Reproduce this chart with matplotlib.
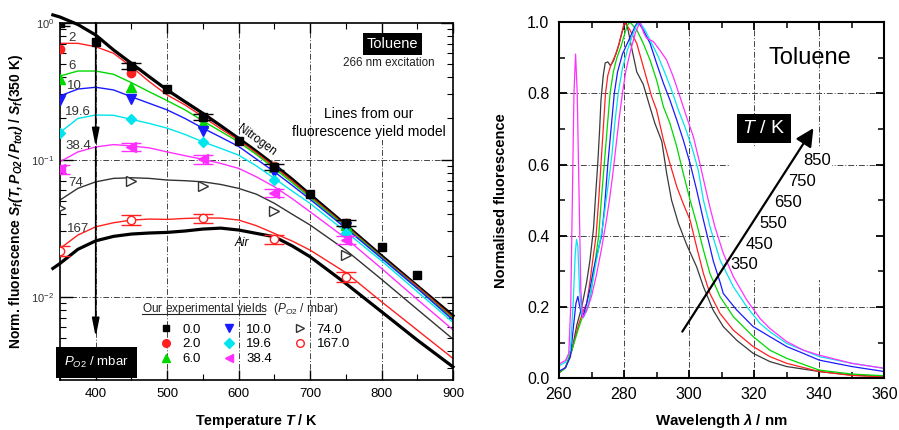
import numpy as np
import matplotlib.pyplot as plt
from matplotlib.lines import Line2D
from matplotlib.patches import Rectangle
from matplotlib.ticker import MultipleLocator, NullFormatter, LogLocator

plt.rcParams['font.family'] = ['Liberation Sans', 'DejaVu Sans']
plt.rcParams['mathtext.fontset'] = 'custom'
plt.rcParams['mathtext.rm'] = 'Liberation Sans'
plt.rcParams['mathtext.it'] = 'Liberation Sans:italic'
plt.rcParams['mathtext.bf'] = 'Liberation Sans:bold:italic'

# ---- left panel: experimental yields ----
t_exp = [350, 450, 550, 650, 750]
t_exp_n2 = [350, 400, 450, 500, 550, 600, 650, 700, 750, 800, 850]
exp_00 = [1.0, 0.719, 0.483, 0.328, 0.204, 0.137, 0.089, 0.0559, 0.0345, 0.0232, 0.0144]
err_00 = [0.05, np.nan, 0.05, np.nan, 0.05, np.nan, 0.05, np.nan, 0.05, np.nan, np.nan]
exp_02 = [0.643, 0.427, 0.200, 0.090, 0.0343]
exp_06 = [0.386, 0.338, 0.184, 0.088, 0.0333]
exp_10 = [0.273, 0.276, 0.162, 0.081, 0.0321]
exp_19 = [0.156, 0.197, 0.135, 0.0711, 0.029]
exp_38 = [0.085, 0.124, 0.1007, 0.0574, 0.0259]
err_38 = [0.07, 0.07, 0.07, 0.07, 0.07]
exp_74 = [0.0442, 0.070, 0.0646, 0.0422, 0.0201]
exp_167 = [0.0216, 0.0363, 0.0373, 0.0262, 0.014]
err_167 = [0.08, 0.08, 0.08, 0.08, 0.08]

# model curves
t_model = [350, 375, 400, 425, 450, 475, 500, 525, 550, 575, 600, 625, 650, 675, 700, 750, 800, 850, 900]
t_thick = [340] + t_model
mod_n2 = [1.14, 1.10, 0.97, 0.813, 0.632, 0.505, 0.403, 0.323, 0.265, 0.218, 0.177, 0.143, 0.115,
          0.0915, 0.072, 0.0556, 0.0334, 0.0199, 0.0120, 0.00726]
mod_air = [0.0161, 0.0175, 0.0222, 0.0256, 0.0276, 0.0287, 0.0292, 0.0295, 0.0302, 0.0312, 0.0317,
           0.0307, 0.029, 0.0274, 0.0235, 0.0196, 0.0125, 0.00778, 0.00483, 0.00308]
mod_02 = [0.707, 0.707, 0.668, 0.598, 0.477, 0.371, 0.297, 0.251, 0.206, 0.168, 0.139, 0.112, 0.0889,
          0.070, 0.0543, 0.0330, 0.0196, 0.0119, 0.00706]
mod_06 = [0.408, 0.444, 0.444, 0.42, 0.365, 0.313, 0.27, 0.231, 0.192, 0.161, 0.135, 0.109, 0.0865,
          0.068, 0.0531, 0.0324, 0.0194, 0.0116, 0.0069]
mod_10 = [0.292, 0.328, 0.338, 0.323, 0.288, 0.258, 0.231, 0.20, 0.170, 0.146, 0.125, 0.101, 0.0817,
          0.065, 0.0514, 0.0316, 0.0191, 0.0115, 0.00676]
mod_19 = [0.158, 0.200, 0.212, 0.211, 0.197, 0.184, 0.170, 0.153, 0.135, 0.121, 0.108, 0.090, 0.0731,
          0.059, 0.048, 0.0298, 0.0183, 0.0109, 0.0065]
mod_38 = [0.0967, 0.114, 0.124, 0.129, 0.126, 0.122, 0.114, 0.107, 0.1007, 0.094, 0.0865, 0.075,
          0.0635, 0.052, 0.0417, 0.0267, 0.0161, 0.00957, 0.00574]
mod_74 = [0.0508, 0.0618, 0.069, 0.0731, 0.0739, 0.0731, 0.0711, 0.0703, 0.069, 0.066, 0.0618, 0.056,
          0.0481, 0.040, 0.0334, 0.0219, 0.0134, 0.0081, 0.00491]
mod_167 = [0.0225, 0.0282, 0.0324, 0.0347, 0.0363, 0.0369, 0.0367, 0.0373, 0.0376, 0.0375, 0.0363,
           0.033, 0.029, 0.0255, 0.0219, 0.0150, 0.0092, 0.00571, 0.00355]

legend_labels = ['0.0', '2.0', '6.0', '10.0', '19.6', '38.4', '74.0', '167.0']
curve_labels = ['2', '6', '10', '19.6', '38.4', '74', '167']

# ---- right panel: spectra ----
wl_350 = [260, 262, 264, 265.5, 267, 268.5, 269.5, 270.6, 271.3, 271.9, 272.5, 272.9, 273.6, 274.2, 275,
          275.8, 276.7, 278.2, 279.8, 280.6, 281.3, 282.5, 283.9, 285.9, 288, 289.5, 291.6, 293.1, 294.6,
          296.7, 299.2, 302.3, 304.4, 307.4, 310.5, 314.6, 319.7, 324.8, 330, 340, 350, 360]
sp_350 = [0.015, 0.03, 0.08, 0.15, 0.20, 0.27, 0.33, 0.42, 0.52, 0.60, 0.70, 0.78, 0.85, 0.885, 0.888,
          0.878, 0.89, 0.93, 0.985, 1.0, 0.975, 0.92, 0.86, 0.825, 0.76, 0.715, 0.665, 0.575, 0.50,
          0.435, 0.376, 0.313, 0.257, 0.191, 0.145, 0.107, 0.07, 0.047, 0.033, 0.019, 0.009, 0.005]
wl_450 = [260, 262, 264, 266, 267.5, 268.5, 269.5, 270.5, 271.4, 272.2, 272.9, 273.6, 274.3, 275, 275.8,
          276.5, 277.5, 278.5, 279.3, 280.1, 281.8, 283.9, 285.9, 288.5, 290, 292.1, 294.1, 296.2, 298.2,
          300.3, 302.3, 304.4, 306.4, 309.5, 313.6, 319.7, 324.8, 330, 340, 350, 360]
sp_450 = [0.015, 0.03, 0.08, 0.15, 0.19, 0.21, 0.27, 0.34, 0.40, 0.50, 0.60, 0.70, 0.80, 0.85, 0.875,
          0.89, 0.91, 0.94, 0.97, 1.0, 0.978, 0.94, 0.875, 0.79, 0.753, 0.669, 0.603, 0.538, 0.49,
          0.444, 0.369, 0.294, 0.238, 0.182, 0.135, 0.089, 0.061, 0.042, 0.019, 0.008, 0.004]
wl_550 = [260, 262, 264, 266, 267.5, 269, 270, 271, 272.2, 273, 273.9, 274.8, 275.7, 276.7, 277.8, 279,
          280.3, 281, 281.8, 283.9, 285.9, 288, 290, 292.1, 294.1, 296.2, 298.2, 300.3, 302.3, 304.4,
          306.4, 309.5, 313.6, 319.7, 324.8, 330, 340, 350, 360]
sp_550 = [0.015, 0.03, 0.08, 0.14, 0.18, 0.20, 0.25, 0.32, 0.40, 0.50, 0.60, 0.70, 0.80, 0.86, 0.90,
          0.93, 0.97, 0.99, 1.0, 0.978, 0.94, 0.893, 0.837, 0.762, 0.716, 0.65, 0.575, 0.5, 0.435, 0.36,
          0.294, 0.229, 0.173, 0.117, 0.079, 0.056, 0.023, 0.012, 0.007]
wl_650 = [260, 262, 263.5, 264.5, 265.2, 265.8, 266.4, 267, 267.6, 268.5, 269.5, 270.5, 271.5, 272.3,
          273.1, 274, 275, 276, 277, 278, 279.5, 281, 282.5, 283.5, 284.3, 285.9, 288, 290, 292.1, 294.1,
          296.2, 298.2, 300.3, 302.3, 304.4, 306.4, 307.4, 309.5, 310.5, 314.6, 319.7, 324.8, 330,
          335.1, 340, 350, 360]
sp_650 = [0.02, 0.03, 0.06, 0.15, 0.21, 0.23, 0.20, 0.175, 0.18, 0.21, 0.25, 0.30, 0.34, 0.37, 0.40,
          0.48, 0.60, 0.70, 0.80, 0.86, 0.91, 0.94, 0.97, 0.99, 1.0, 0.978, 0.94, 0.884, 0.828, 0.781,
          0.725, 0.669, 0.603, 0.529, 0.444, 0.369, 0.33, 0.27, 0.238, 0.192, 0.145, 0.117, 0.089,
          0.07, 0.051, 0.033, 0.019]
wl_750 = [260, 262, 263.5, 264.3, 265, 265.4, 265.8, 266.3, 267, 267.5, 268.5, 269.5, 270.5, 271.5,
          272.5, 273.5, 274.5, 275.5, 276.3, 277.2, 278.2, 279.5, 281, 282.5, 283.8, 284.8, 286.4, 288.5,
          290.5, 292.6, 294.6, 296.7, 298.7, 300.8, 302.8, 304.4, 306.4, 309.5, 313.6, 317.7, 321.8,
          324.8, 330, 335.1, 340, 350, 360]
sp_750 = [0.035, 0.045, 0.08, 0.2, 0.35, 0.39, 0.37, 0.25, 0.18, 0.17, 0.19, 0.23, 0.28, 0.33, 0.38,
          0.43, 0.50, 0.57, 0.63, 0.72, 0.80, 0.87, 0.92, 0.96, 0.99, 1.0, 0.978, 0.94, 0.903, 0.856,
          0.809, 0.753, 0.706, 0.65, 0.585, 0.5, 0.426, 0.332, 0.257, 0.201, 0.154, 0.131, 0.098, 0.079,
          0.061, 0.042, 0.028]
wl_850 = [260, 262, 263, 263.6, 264.1, 264.6, 265.1, 265.6, 266.2, 266.7, 267.3, 268.5, 270, 271.5, 273,
          274.5, 275.5, 276.5, 277.5, 278.5, 279.5, 280.5, 282, 283.5, 284.9, 286, 286.9, 289, 291, 293.1,
          295.1, 297.2, 299.2, 301.3, 303.3, 305.4, 306.4, 307.9, 310.5, 313.6, 317.7, 321.8, 324.8, 330,
          335.1, 340, 350, 360]
sp_850 = [0.04, 0.05, 0.07, 0.2, 0.5, 0.8, 0.91, 0.8, 0.5, 0.25, 0.17, 0.19, 0.23, 0.29, 0.36, 0.44,
          0.50, 0.57, 0.65, 0.73, 0.80, 0.86, 0.92, 0.97, 1.0, 0.97, 0.955, 0.945, 0.921, 0.893, 0.847,
          0.79, 0.734, 0.678, 0.603, 0.519, 0.48, 0.426, 0.351, 0.285, 0.22, 0.168, 0.14, 0.103, 0.079,
          0.065, 0.042, 0.028]
temp_labels = ['850', '750', '650', '550', '450', '350']

c_red, c_green, c_blue = '#ff2020', '#00d800', '#1a1aff'
c_cyan, c_mag, c_gray = '#00e5ee', '#ff30ff', '#333333'
gridstyle = dict(color='#444444', lw=0.7, ls=(0, (6, 2, 1, 2)), zorder=0.5)

fig = plt.figure(figsize=(8.99, 4.30), dpi=100)
ax1 = fig.add_axes([60 / 899, 50 / 430, 393 / 899, 357.3 / 430])
ax2 = fig.add_axes([559 / 899, 51.7 / 430, 325.3 / 899, 356.3 / 430])

# left panel
ax1.set_yscale('log')
ax1.set_xlim(350, 900)
ax1.set_ylim(0.00247, 1.0)
for t in [400, 500, 600, 700, 800]:
    ax1.axvline(t, **gridstyle)
for v in [0.1, 0.01]:
    ax1.axhline(v, **gridstyle)
ax1.add_patch(Rectangle((728, 0.139), 172, 1.0 - 0.139, fc='white', ec='none', zorder=0.7))

ax1.plot(t_thick, mod_n2, color='black', lw=2.3, zorder=2, clip_on=False)
ax1.plot(t_thick, mod_air, color='black', lw=2.3, zorder=2, clip_on=False)
models = [(mod_02, c_red), (mod_06, c_green), (mod_10, c_blue), (mod_19, c_cyan),
          (mod_38, c_mag), (mod_74, c_gray), (mod_167, c_red)]
for m, c in models:
    ax1.plot(t_model, m, color=c, lw=1.0, zorder=2)

ebkw = dict(ls='none', capsize=7, elinewidth=1, capthick=1, zorder=3)
ax1.errorbar(t_exp_n2, exp_00, yerr=np.array(exp_00) * np.array(err_00), marker='s', ms=5.5,
             color='black', **ebkw)
ax1.plot(t_exp, exp_02, 'o', ms=6, color=c_red, zorder=3)
ax1.plot(t_exp, exp_06, '^', ms=6.5, color=c_green, zorder=3)
ax1.plot(t_exp, exp_10, 'v', ms=6.5, color=c_blue, zorder=3)
ax1.plot(t_exp, exp_19, 'D', ms=5, color=c_cyan, zorder=3)
ax1.errorbar(t_exp, exp_38, yerr=np.array(exp_38) * np.array(err_38), marker='<', ms=6.5,
             color=c_mag, **ebkw)
ax1.plot(t_exp, exp_74, '>', ms=6.5, mfc='white', mec=c_gray, mew=1, zorder=3)
ax1.errorbar(t_exp, exp_167, yerr=np.array(exp_167) * np.array(err_167), marker='o', ms=6,
             mfc='white', mec=c_red, color=c_red, **ebkw)

# curve labels at the left side
label_pos = [(68, 38), (68, 66), (67, 86), (65, 112), (65, 146), (68, 183), (67, 229)]
for s, (px, py) in zip(curve_labels, label_pos):
    ax1.text((px - 60) / 393, (380 - py) / 357.3, s, transform=ax1.transAxes, fontsize=9.5,
             color='#333333', ha='left', va='center')

# P_O2 arrow
ax1.annotate('', xy=(400, 0.124), xytext=(400, 1.0),
             arrowprops=dict(arrowstyle='-|>,head_length=1.1,head_width=0.22', lw=1.2, color='black',
                             shrinkA=0, shrinkB=0))
ax1.annotate('', xy=(400, 0.0051), xytext=(400, 0.124),
             arrowprops=dict(arrowstyle='-|>,head_length=1.1,head_width=0.22', lw=1.2, color='black',
                             shrinkA=0, shrinkB=0))
ax1.text(0.093, 0.05, r'$\mathit{P}_{\mathit{O2}}$ / mbar', transform=ax1.transAxes, color='white',
         fontsize=9.5, ha='center', va='center', zorder=5,
         bbox=dict(boxstyle='square,pad=0.6', fc='black', ec='none'))

ax1.text(0.847, 0.940, 'Toluene', transform=ax1.transAxes, color='white', fontsize=10.5,
         ha='center', va='center', bbox=dict(boxstyle='square,pad=0.25', fc='black', ec='none'))
ax1.text(0.837, 0.887, '266 nm excitation', transform=ax1.transAxes, fontsize=8.4, color='#222222',
         ha='center', va='center')
ax1.text(0.786, 0.720, 'Lines from our\nfluorescence yield model', transform=ax1.transAxes,
         fontsize=10, ha='center', va='center', linespacing=1.35)
ax1.text(0.501, 0.672, 'Nitrogen', transform=ax1.transAxes, fontsize=8.5, rotation=-36,
         ha='center', va='center')
ax1.text(0.463, 0.383, 'Air', transform=ax1.transAxes, fontsize=8.5, style='italic',
         ha='center', va='center')

# legend
handles = [Line2D([], [], ls='none', marker='s', ms=4.5, color='black'),
           Line2D([], [], ls='none', marker='o', ms=5.5, color=c_red),
           Line2D([], [], ls='none', marker='^', ms=6, color=c_green),
           Line2D([], [], ls='none', marker='v', ms=6, color=c_blue),
           Line2D([], [], ls='none', marker='D', ms=5, color=c_cyan),
           Line2D([], [], ls='none', marker='<', ms=6, color=c_mag),
           Line2D([], [], ls='none', marker='>', ms=6, mfc='white', mec=c_gray),
           Line2D([], [], ls='none', marker='o', ms=5.5, mfc='white', mec=c_red)]
ax1.legend(handles, legend_labels, ncol=3, loc='center', bbox_to_anchor=(0.495, 0.10),
           frameon=False, fontsize=9.5, handlelength=1.0, handletextpad=0.8, columnspacing=1.6,
           labelspacing=0.2, borderpad=0)
ax1.text((142 - 60) / 393, (380 - 309) / 357.3,
         r'Our experimental yields  ($\mathit{P}_{\mathit{O2}}$ / mbar)', transform=ax1.transAxes,
         fontsize=8.6, ha='left', va='center', color='#222222')
ax1.add_line(Line2D([(142 - 60) / 393, (265 - 60) / 393], [(380 - 314) / 357.3] * 2,
                    transform=ax1.transAxes, color='#222222', lw=0.8))

ax1.xaxis.set_major_locator(MultipleLocator(100))
ax1.xaxis.set_minor_locator(MultipleLocator(50))
ax1.yaxis.set_major_locator(LogLocator(base=10))
ax1.yaxis.set_minor_locator(LogLocator(base=10, subs=np.arange(2, 10)))
ax1.yaxis.set_minor_formatter(NullFormatter())
ax1.tick_params(which='both', direction='in', top=True, right=True)
ax1.tick_params(axis='x', which='major', length=7, width=1, labelsize=9.5, pad=6)
ax1.tick_params(axis='x', which='minor', length=4, width=0.8)
ax1.tick_params(axis='y', which='major', length=9, width=1, labelsize=8, labelcolor='#333333', pad=4)
ax1.tick_params(axis='y', which='minor', length=4.5, width=0.8)
for sp in ax1.spines.values():
    sp.set_linewidth(1.2)
ax1.set_xlabel(r'Temperature $\mathbf{T}$ / K', fontsize=10.3, fontweight='bold')
ax1.xaxis.set_label_coords(0.5, -0.09)
ax1.set_ylabel(r'Norm. fluorescence $\mathbf{S_f(T, P_{O2}\,/\,P_{tot})}$ / $\mathbf{S_f}$(350 K)',
               fontsize=10, fontweight='bold')
ax1.yaxis.set_label_coords(-0.089, 0.5)

# right panel
ax2.set_xlim(260, 360)
ax2.set_ylim(0, 1.0)
for w in [280, 300, 320, 340]:
    ax2.axvline(w, **gridstyle)
for v in [0.2, 0.4, 0.6, 0.8]:
    ax2.axhline(v, **gridstyle)
ax2.add_patch(Rectangle((312.6, 0.276), 31.3, 0.37, fc='white', ec='none', zorder=0.7))
ax2.add_patch(Rectangle((343.9, 0.24), 16.1, 0.35, fc='white', ec='none', zorder=0.7))

spectra = [(wl_350, sp_350, '#3a3a3a'), (wl_450, sp_450, c_red), (wl_550, sp_550, c_green),
           (wl_650, sp_650, c_blue), (wl_750, sp_750, c_cyan), (wl_850, sp_850, c_mag)]
for wl, sp, c in spectra:
    ax2.plot(wl, sp, color=c, lw=0.9, zorder=2)

ax2.annotate('', xy=(338.2, 0.702), xytext=(297.9, 0.131),
             arrowprops=dict(arrowstyle='-|>,head_length=0.9,head_width=0.45', lw=1.6, color='black',
                             shrinkA=0, shrinkB=0, mutation_scale=12), zorder=4)
temp_pos = [(0.792, 0.610), (0.746, 0.552), (0.705, 0.494), (0.659, 0.435), (0.615, 0.376),
            (0.570, 0.318)]
for s, (xf, yf) in zip(temp_labels, temp_pos):
    ax2.text(xf, yf, s, transform=ax2.transAxes, fontsize=12, ha='center', va='center', zorder=5)
ax2.text(0.630, 0.702, r'$\mathit{T}$ / K', transform=ax2.transAxes, color='white', fontsize=14,
         ha='center', va='center', bbox=dict(boxstyle='square,pad=0.3', fc='black', ec='none'))
ax2.text(0.772, 0.899, 'Toluene', transform=ax2.transAxes, fontsize=17, ha='center', va='center')

ax2.xaxis.set_major_locator(MultipleLocator(20))
ax2.xaxis.set_minor_locator(MultipleLocator(10))
ax2.yaxis.set_major_locator(MultipleLocator(0.2))
ax2.yaxis.set_minor_locator(MultipleLocator(0.1))
ax2.tick_params(which='both', direction='in', top=True, right=True)
ax2.tick_params(which='major', length=6, width=1.3, labelsize=11.5)
ax2.tick_params(axis='x', which='major', pad=6)
ax2.tick_params(axis='y', which='major', pad=7)
ax2.tick_params(which='minor', length=4, width=1.1)
for sp in ax2.spines.values():
    sp.set_linewidth(1.5)
ax2.set_xlabel(r'Wavelength $\mathbf{\lambda}$ / nm', fontsize=10.8, fontweight='bold')
ax2.xaxis.set_label_coords(0.5, -0.093)
ax2.set_ylabel('Normalised fluorescence', fontsize=10.5, fontweight='bold')
ax2.yaxis.set_label_coords(-0.156, 0.5)

fig.savefig('out.png', dpi=100)
